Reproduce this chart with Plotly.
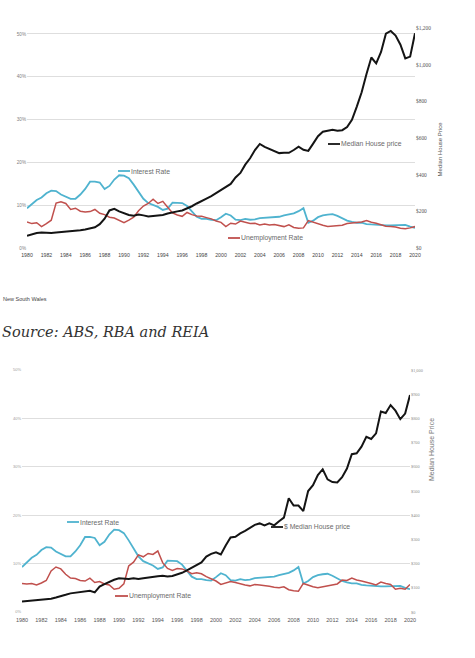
import plotly.graph_objects as go

# half-year sample points, 1980 to 2020
years = [1980 + 0.5 * i for i in range(81)]

# cash rate / standard variable rate, same for both states (%)
interest_rate = [
    9.3, 10.2, 11.2, 11.8, 12.8, 13.4, 13.3, 12.5, 12.0, 11.5,
    11.5, 12.5, 13.8, 15.5, 15.5, 15.3, 13.8, 14.5, 16.0, 17.0,
    16.9, 16.3, 14.8, 13.0, 11.5, 10.5, 10.0, 9.6, 8.9, 9.2,
    10.6, 10.6, 10.5, 9.8, 8.5, 7.3, 6.8, 6.8, 6.6, 6.5,
    7.2, 8.0, 7.6, 6.6, 6.5, 6.8, 6.6, 6.7, 7.0, 7.1,
    7.2, 7.3, 7.3, 7.6, 7.9, 8.1, 8.6, 9.3, 5.9, 6.4,
    7.2, 7.6, 7.8, 7.9, 7.5, 6.9, 6.4, 6.1, 5.9, 5.9,
    5.6, 5.5, 5.4, 5.3, 5.3, 5.3, 5.3, 5.3, 5.4, 5.0,
    4.7,
]

# New South Wales
nsw_unemployment = [
    6.1, 5.7, 5.9, 5.0, 5.7, 6.5, 10.5, 10.8, 10.4, 9.0,
    9.3, 8.6, 8.4, 8.5, 9.0, 8.1, 7.8, 7.2, 7.0, 6.4,
    5.9, 6.5, 7.2, 8.7, 9.8, 10.4, 11.4, 10.4, 10.9, 9.5,
    8.2, 7.7, 7.4, 8.3, 7.8, 7.5, 7.4, 7.1, 6.8, 6.3,
    6.0, 5.0, 5.8, 5.6, 6.3, 6.0, 5.7, 5.8, 5.4, 5.6,
    5.4, 5.5, 5.2, 5.0, 5.4, 4.8, 4.6, 4.7, 6.4, 6.0,
    5.7, 5.3, 5.0, 5.1, 5.1, 5.3, 5.7, 5.8, 5.9, 6.1,
    6.4, 6.0, 5.8, 5.4, 5.1, 5.0, 4.9, 4.6, 4.5, 4.7,
    5.0,
]
nsw_price = [  # $'000
    67, 76, 82, 84, 81, 82, 84, 86, 88, 91,
    93, 97, 101, 106, 113, 130, 160, 205, 214, 200,
    190, 180, 176, 183, 178, 172, 175, 176, 180, 188,
    196, 200, 205, 215, 228, 243, 258, 270, 283, 300,
    318, 333, 350, 385, 410, 455, 490, 535, 568, 552,
    542, 530, 518, 520, 520, 535, 553, 536, 530, 570,
    610, 635, 642, 645, 640, 643, 660, 700, 772, 850,
    950, 1040, 1008, 1070, 1170, 1185, 1160, 1110, 1035, 1045,
    1172,
]

# second state (Victoria)
vic_unemployment = [
    5.9, 5.8, 5.9, 5.6, 6.0, 6.5, 8.5, 9.3, 8.9, 7.8,
    7.0, 6.9, 6.5, 6.4, 7.0, 6.1, 6.3, 5.8, 5.6, 4.7,
    4.9, 5.8, 9.5, 10.3, 11.8, 11.4, 12.1, 11.9, 12.6, 10.2,
    9.0, 8.6, 9.0, 8.9, 8.5, 7.9, 8.1, 7.9, 7.3, 6.8,
    6.4, 5.7, 6.0, 6.3, 6.1, 5.8, 5.6, 5.4, 5.7, 5.6,
    5.5, 5.3, 5.1, 5.0, 5.2, 4.6, 4.4, 4.3, 5.9, 5.5,
    5.2, 5.0, 5.2, 5.4, 5.7, 5.8, 6.6, 6.5, 7.0, 6.6,
    6.4, 6.2, 5.9, 5.6, 6.2, 5.9, 5.7, 4.7, 4.9, 4.7,
    5.7,
]
vic_price = [
    43, 45, 47, 48, 50, 52, 55, 60, 64, 71,
    77, 80, 84, 86, 88, 81, 105, 115, 125, 133,
    139, 137, 136, 139, 136, 139, 143, 146, 148, 150,
    147, 149, 154, 162, 172, 183, 193, 205, 229, 240,
    247, 238, 275, 308, 311, 325, 335, 346, 360, 366,
    358, 366, 358, 375, 390, 470, 440, 440, 417, 500,
    524, 566, 590, 548, 537, 535, 557, 593, 652, 656,
    683, 724, 715, 738, 828, 822, 855, 832, 797, 820,
    897,
]

year_ticks = list(range(1980, 2021, 2))
pct_ticks = [0, 10, 20, 30, 40, 50]
pct_labels = ["0%", "10%", "20%", "30%", "40%", "50%"]

BLUE = "#4fb3cf"
RED = "#c0504d"
BLACK = "#141414"
GRID = "#dedede"
FONT = "Liberation Sans"

W, H = 475, 658


def px(x):
    return x / W


def py(y):
    return 1 - y / H


fig = go.Figure()

for xa, ya, yb, unemp, price in [("x", "y", "y2", nsw_unemployment, nsw_price),
                                 ("x2", "y3", "y4", vic_unemployment, vic_price)]:
    fig.add_trace(go.Scatter(x=years, y=interest_rate, mode="lines", name="Interest Rate",
                             line=dict(color=BLUE, width=1.8), xaxis=xa, yaxis=ya))
    fig.add_trace(go.Scatter(x=years, y=unemp, mode="lines", name="Unemployment Rate",
                             line=dict(color=RED, width=1.5), xaxis=xa, yaxis=ya))
    fig.add_trace(go.Scatter(x=years, y=price, mode="lines", name="Median House price",
                             line=dict(color=BLACK, width=2), xaxis=xa, yaxis=yb))

xcommon = dict(range=[1980, 2020], tickmode="array", tickvals=year_ticks, showgrid=False,
               zeroline=False, showline=False, ticks="", automargin=False,
               ticklabelstandoff=3)
pcommon = dict(tickmode="array", tickvals=pct_ticks, ticktext=pct_labels, showgrid=True,
               gridcolor=GRID, gridwidth=1, zeroline=False, ticks="", automargin=False)
dcommon = dict(side="right", showgrid=False, zeroline=False, ticks="",
               tickprefix="$", tickformat=",", automargin=False)

fig.update_layout(
    width=W, height=H, autosize=False,
    margin=dict(l=0, r=0, t=0, b=0, autoexpand=False),
    paper_bgcolor="white", plot_bgcolor="white",
    showlegend=False,
    font=dict(family=FONT, color="#595959"),
    xaxis=dict(domain=[px(27), px(415)], anchor="y",
               tickfont=dict(size=5.2, color="#444444"), **xcommon),
    yaxis=dict(domain=[py(248), py(28)], range=[0, 51.4],
               tickfont=dict(size=4.6, color="#808080"), **pcommon),
    yaxis2=dict(overlaying="y", anchor="x", range=[0, 1201], dtick=200,
                tickfont=dict(size=5.4, color="#555555", family="Liberation Serif"), **dcommon),
    xaxis2=dict(domain=[px(22), px(410)], anchor="y3",
                tickfont=dict(size=5.5, color="#555555"), **xcommon),
    yaxis3=dict(domain=[py(612), py(370)], range=[0, 50], anchor="x2",
                tickfont=dict(size=4, color="#9a9a9a"), **pcommon),
    yaxis4=dict(overlaying="y3", anchor="x2", range=[0, 1000], dtick=100,
                tickfont=dict(size=4.3, color="#909090", family="Liberation Serif"), **dcommon),
)

# inline legend keys
keys = [
    (118, 130, 171, BLUE, "Interest Rate"),
    (328, 340, 144, BLACK, "Median House price"),
    (228, 240, 238, RED, "Unemployment Rate"),
    (67, 79, 522, BLUE, "Interest Rate"),
    (271, 283, 527, BLACK, "$ Median House price"),
    (115, 128, 596, RED, "Unemployment Rate"),
]
for x0, x1, yk, col, label in keys:
    fig.add_shape(type="line", xref="paper", yref="paper",
                  x0=px(x0), x1=px(x1), y0=py(yk), y1=py(yk),
                  line=dict(color=col, width=1.8))
    fig.add_annotation(x=px(x1), y=py(yk), xref="paper", yref="paper",
                       text=label, showarrow=False, xanchor="left", yanchor="middle",
                       borderpad=0, font=dict(size=6.8, color="#6a6a6a", family=FONT))

# right axis titles
fig.add_annotation(x=px(444), y=py(120), xref="paper", yref="paper", text="Median House Price",
                   textangle=-90, showarrow=False, font=dict(size=6, color="#555555", family=FONT))
fig.add_annotation(x=px(437), y=py(483), xref="paper", yref="paper", text="Median House Price",
                   textangle=-90, showarrow=False, font=dict(size=7, color="#777777", family=FONT))

fig.add_annotation(x=px(2), y=py(299), xref="paper", yref="paper", text="New South Wales",
                   showarrow=False, xanchor="left", yanchor="middle", borderpad=0,
                   font=dict(size=5.5, color="#444444", family=FONT))
fig.add_annotation(x=px(1), y=py(332), xref="paper", yref="paper",
                   text="<i>Source: ABS, RBA and REIA</i>",
                   showarrow=False, xanchor="left", yanchor="middle", borderpad=0,
                   font=dict(size=14.5, color="#333333", family="DejaVu Serif"))

# drop the default page margin so the figure sits at the window's top-left corner
fig.write_html("out.html", config={"displayModeBar": False},
               post_script="document.body.style.margin='0';")
